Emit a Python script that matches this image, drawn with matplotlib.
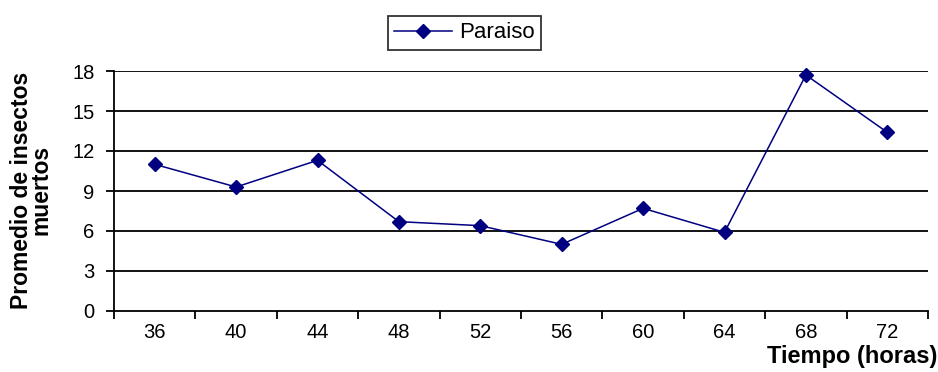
import matplotlib
matplotlib.use('Agg')
import matplotlib.pyplot as plt
import numpy as np

# data
horas = ['36', '40', '44', '48', '52', '56', '60', '64', '68', '72']
paraiso = [11.0, 9.3, 11.3, 6.7, 6.4, 5.0, 7.7, 5.9, 17.7, 13.4]
y_ticks = [0, 3, 6, 9, 12, 15, 18]

plt.rcParams['font.family'] = ['Liberation Sans', 'DejaVu Sans']

fig = plt.figure(figsize=(9.38, 3.72), dpi=100)
ax = fig.add_axes([114 / 938, 1 - 311 / 372, 814 / 938, 240 / 372])

x = np.arange(len(horas))
ax.plot(x, paraiso, color='#000080', lw=1.1, marker='D', ms=7.5,
        mfc='#000080', mec='#000080', label='Paraiso', clip_on=False)

ax.set_xlim(-0.5, len(horas) - 0.5)
ax.set_ylim(0, 18)
ax.set_yticks(y_ticks)
ax.set_yticklabels([str(t) for t in y_ticks])
for t in y_ticks[1:]:
    ax.axhline(t, color='black', lw=1.3, zorder=0)

# category axis: ticks between categories, labels centred
ax.set_xticks(np.arange(-0.5, len(horas), 1.0))
ax.set_xticklabels([])
ax.set_xticks(x, minor=True)
ax.set_xticklabels(horas, minor=True)
ax.tick_params(axis='x', which='minor', length=0, pad=9, labelsize=14.5)
ax.tick_params(axis='x', which='major', length=6, width=1.3, direction='out')
ax.tick_params(axis='y', length=6, width=1.3, direction='out', pad=8,
               labelsize=14.5)

for s in ['top', 'right']:
    ax.spines[s].set_visible(False)
for s in ['left', 'bottom']:
    ax.spines[s].set_linewidth(1.3)

fig.text(31 / 938, 1 - 190 / 372, 'Promedio de insectos\nmuertos',
         rotation=90, ha='center', va='center', fontsize=16.5,
         fontweight='bold', linespacing=0.82)
fig.text(937 / 938, 1 - 357 / 372, 'Tiempo (horas)', ha='right',
         va='center', fontsize=17, fontweight='bold')

leg = ax.legend(loc='center', bbox_to_anchor=(464.5 / 938, 1 - 33 / 372),
                bbox_transform=fig.transFigure, fontsize=16, frameon=True,
                fancybox=False, edgecolor='black', handlelength=2.6,
                borderpad=0.3, handletextpad=0.3, borderaxespad=0)
leg.get_frame().set_linewidth(1.3)

fig.savefig('out.png', dpi=100)
